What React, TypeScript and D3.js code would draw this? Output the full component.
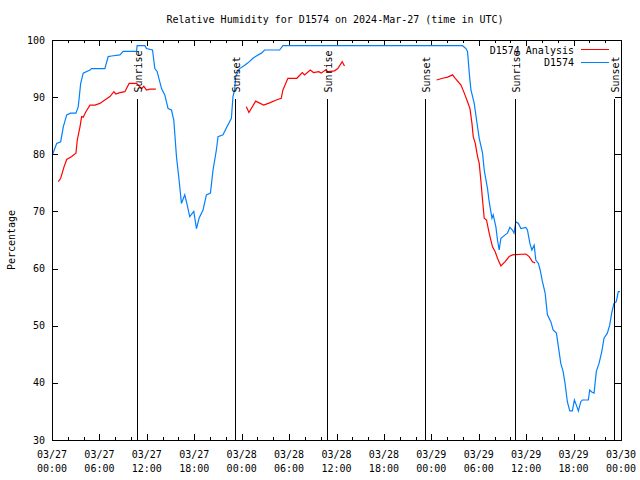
import React from "react";
import * as d3 from "d3";

// Hours since 2024-03-27 00:00 UTC
const blueHours = [0.09,0.59,1.10,1.43,1.86,2.36,3.03,3.32,3.63,3.95,4.80,5.01,6.69,7.11,7.54,8.59,9.01,10.70,10.77,11.75,11.96,12.72,13.01,13.30,13.86,14.27,14.69,15.12,15.41,15.75,16.08,16.38,16.80,17.01,17.43,17.94,18.28,18.61,19.11,19.54,20.05,20.37,20.80,21.01,21.64,22.14,22.70,22.90,23.11,23.24,23.75,24.38,24.80,25.43,25.86,26.49,26.90,28.80,29.22,51.95,52.38,52.58,52.80,53.01,53.43,53.72,54.06,54.48,54.69,55.11,55.32,55.67,55.83,56.17,56.37,56.59,56.80,57.34,57.63,57.94,58.26,58.47,58.69,59.02,59.33,59.96,60.16,60.47,60.72,61.01,61.22,61.55,61.77,62.06,62.40,62.69,63.12,63.41,63.83,64.08,64.38,64.67,64.92,65.21,65.52,65.85,66.10,66.35,66.61,66.91,67.11,67.87,68.04,68.30,68.59,68.88,69.22,69.56,69.85,70.27,70.57,70.82,71.11,71.40,71.66,71.87];
const blueValues = [80.05,81.9,82.2,84.8,86.9,87.2,87.2,88.3,92.4,94.2,94.75,95.0,95.0,97.1,97.2,97.4,98.0,98.0,99.0,99.0,98.5,98.25,95.0,94.5,91.5,90.4,88.0,87.75,86.0,79.6,75.5,71.4,72.9,71.7,69.1,70.0,67.0,68.8,70.25,72.9,73.2,77.2,80.75,83.1,83.4,84.8,86.3,90.1,91.25,93.6,95.0,95.6,96.0,96.8,97.2,97.7,98.25,98.25,99.0,99.0,98.5,98.0,94.2,91.25,88.9,86.0,82.8,80.2,77.25,74.0,71.7,68.8,69.4,67.3,65.0,63.25,65.3,65.9,66.2,67.2,66.75,66.2,68.2,67.9,67.0,67.2,66.75,64.4,63.25,64.1,61.5,60.9,59.75,57.7,55.7,51.9,50.7,49.25,48.7,46.3,43.4,42.0,39.9,36.7,35.1,35.1,37.0,36.1,35.1,36.7,37.0,37.0,38.75,38.4,38.2,42.0,43.4,45.4,47.8,48.7,50.1,52.2,53.9,54.2,55.95,55.95];

// Analysis series: null marks a gap in the data
const redHours = [0.80,1.10,1.52,1.86,2.49,3.03,3.20,3.54,3.75,3.95,4.29,4.80,5.43,6.06,6.69,7.33,7.83,8.08,8.59,9.22,9.76,10.70,11.12,11.33,11.62,11.96,12.38,13.14,null,
  24.59,24.92,25.77,26.78,27.54,28.38,29.01,29.22,29.85,30.98,31.67,31.96,32.68,33.09,33.76,34.07,34.61,34.90,35.75,36.16,36.72,37.01,null,
  48.67,49.42,50.06,50.69,51.03,51.75,52.17,52.58,52.89,53.14,53.30,53.56,53.85,54.06,54.28,54.48,54.69,54.98,55.32,55.74,56.08,56.37,56.80,57.34,57.85,58.26,59.96,60.38,60.80,61.14];
const redValues = [75.2,75.8,77.8,79.1,79.6,80.2,82.5,84.8,86.6,86.5,87.45,88.6,88.6,88.9,89.5,90.1,90.95,90.55,90.8,90.95,92.4,92.4,91.8,91.5,91.9,91.25,91.4,91.4,null,
  88.3,87.3,89.3,88.6,89.0,89.5,89.8,91.25,93.3,93.3,94.3,93.9,94.75,94.3,94.45,94.2,94.75,94.45,94.6,95.0,96.2,95.45,null,
  93.0,93.3,93.5,93.9,93.3,92.1,90.7,89.2,88.0,85.4,83.1,81.9,79.6,78.4,75.2,72.0,68.8,68.5,66.2,63.8,62.95,61.8,60.45,61.2,62.1,62.4,62.55,62.1,61.2,61.0];

const eventHours = [10.78, 23.18, 34.77, 47.18, 58.65, 71.07];
const eventLabels = ["Sunrise", "Sunset", "Sunrise", "Sunset", "Sunrise", "Sunset"];

const xTickHours = [0, 6, 12, 18, 24, 30, 36, 42, 48, 54, 60, 66, 72];
const xTickDates = ["03/27","03/27","03/27","03/27","03/28","03/28","03/28","03/28","03/29","03/29","03/29","03/29","03/30"];
const xTickTimes = ["00:00","06:00","12:00","18:00","00:00","06:00","12:00","18:00","00:00","06:00","12:00","18:00","00:00"];
const yTicks = [30, 40, 50, 60, 70, 80, 90, 100];

const titleText = "Relative Humidity for D1574 on 2024-Mar-27 (time in UTC)";
const yLabelText = "Percentage";
const seriesNames = ["D1574 Analysis", "D1574"];
const seriesColors = ["#ff0000", "#0080ff"];

const W = 640, H = 480;
const L = 52, R = 621, T = 40, B = 440;
const FONT = "'DejaVu Sans Mono', monospace";

export default function App() {
  const x = d3.scaleLinear().domain([0, 72]).range([L, R]);
  const y = d3.scaleLinear().domain([30, 100]).range([B, T]);

  const bluePts = blueHours.map((h, i) => [h, blueValues[i]] as [number, number]);
  const redPts = redHours.map((h, i) => [h, redValues[i]] as [number | null, number | null]);

  const blueLine = d3.line<[number, number]>().x(d => x(d[0])).y(d => y(d[1]));
  const redLine = d3.line<[number | null, number | null]>()
    .defined(d => d[0] != null && d[1] != null)
    .x(d => x(d[0] as number)).y(d => y(d[1] as number));

  const minorHours = d3.range(0, 73, 2);

  return (
    <svg width={W} height={H} style={{ position: "absolute", left: 0, top: 0, background: "#fff" }}
      fontFamily={FONT} fontSize={10}>
      <rect x={0} y={0} width={W} height={H} fill="#fff" />
      {/* ticks */}
      <g stroke="#000" strokeWidth={1} shapeRendering="crispEdges">
        {minorHours.map(h => {
          const len = h % 6 === 0 ? 6 : 3;
          const px = Math.round(x(h)) + 0.5;
          return (
            <g key={"xt" + h}>
              <line x1={px} x2={px} y1={B} y2={B - len} />
              <line x1={px} x2={px} y1={T} y2={T + len} />
            </g>
          );
        })}
        {yTicks.map(v => {
          const py = Math.round(y(v)) + 0.5;
          return (
            <g key={"yt" + v}>
              <line x1={L} x2={L + 6} y1={py} y2={py} />
              <line x1={R} x2={R - 6} y1={py} y2={py} />
            </g>
          );
        })}
      </g>
      {/* series */}
      <path d={blueLine(bluePts) || ""} fill="none" stroke={seriesColors[1]} strokeWidth={1.2} />
      <path d={redLine(redPts) || ""} fill="none" stroke={seriesColors[0]} strokeWidth={1.2} />
      {/* sunrise/sunset markers */}
      {eventHours.map((h, i) => {
        const px = Math.round(x(h)) + 0.5;
        return (
          <g key={"ev" + i}>
            <line x1={px} x2={px} y1={99} y2={B} stroke="#000" strokeWidth={1} shapeRendering="crispEdges" />
            <text transform={`translate(${px + 4},${92.5}) rotate(-90)`} textAnchor="start" fill="#000">
              {eventLabels[i]}
            </text>
          </g>
        );
      })}
      {/* frame */}
      <rect x={L + 0.5} y={T + 0.5} width={R - L} height={B - T} fill="none" stroke="#000" strokeWidth={1} shapeRendering="crispEdges" />
      {/* y tick labels */}
      {yTicks.map(v => (
        <text key={"yl" + v} x={45} y={y(v) + 3.5} textAnchor="end" fill="#000">{v}</text>
      ))}
      {/* x tick labels */}
      {xTickHours.map((h, i) => (
        <g key={"xl" + h}>
          <text x={x(h)} y={458} textAnchor="middle" fill="#000">{xTickDates[i]}</text>
          <text x={x(h)} y={472} textAnchor="middle" fill="#000">{xTickTimes[i]}</text>
        </g>
      ))}
      {/* title */}
      <text x={335} y={23} textAnchor="middle" fill="#000">{titleText}</text>
      {/* y label */}
      <text transform="translate(15,240) rotate(-90)" textAnchor="middle" fill="#000">{yLabelText}</text>
      {/* legend */}
      <text x={574} y={53.5} textAnchor="end" fill="#000">{seriesNames[0]}</text>
      <line x1={581} x2={609} y1={49.5} y2={49.5} stroke={seriesColors[0]} strokeWidth={1} />
      <text x={574} y={66} textAnchor="end" fill="#000">{seriesNames[1]}</text>
      <line x1={581} x2={609} y1={62.5} y2={62.5} stroke={seriesColors[1]} strokeWidth={1} />
    </svg>
  );
}
